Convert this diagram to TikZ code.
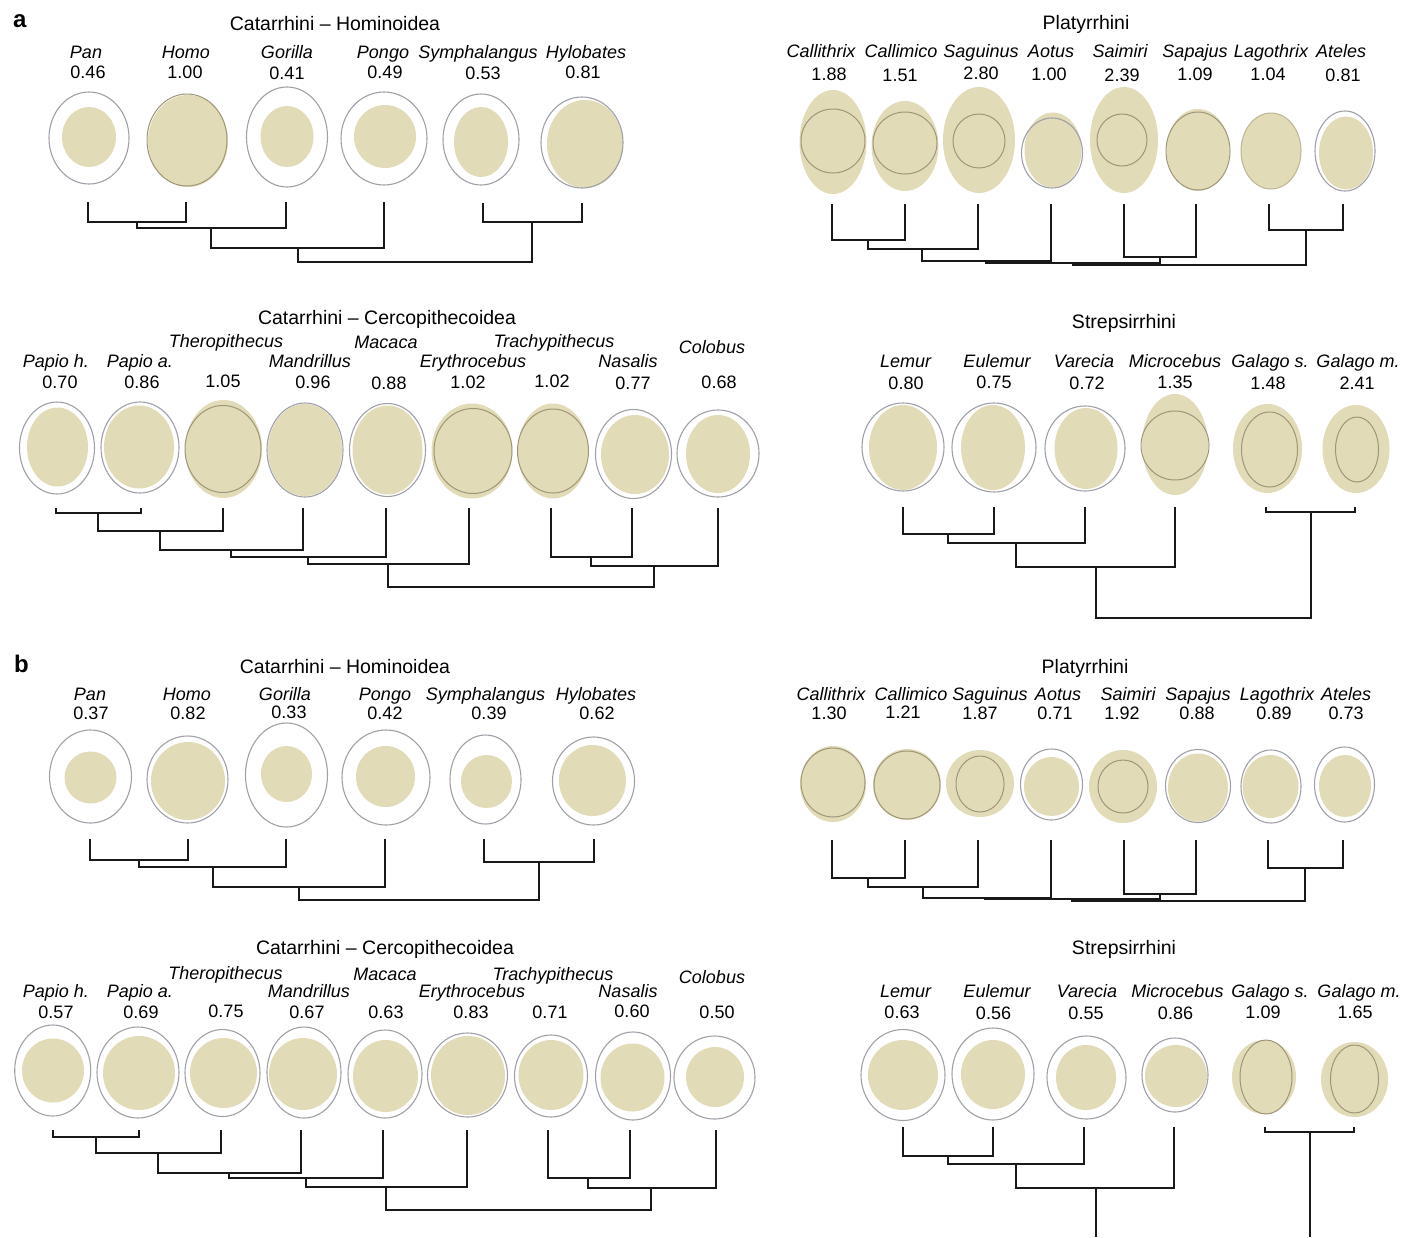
\documentclass[tikz,border=0pt]{standalone}
\usepackage{fontspec}
\setmainfont{Liberation Sans}
\definecolor{eggfill}{RGB}{226,219,183}
\definecolor{eggrim}{RGB}{160,160,168}
\definecolor{eggin}{RGB}{158,150,120}
\newcommand\eggcell[9]{%
  \fill[eggfill] (#1,#2) ellipse [x radius=#3pt, y radius=#4pt];
  \draw[#9] (#5,#6) ellipse [x radius=#7pt, y radius=#8pt];}
\newcommand\dbr[3]{\draw[tree] (#2) |- (#1) -| (#3);}
\tikzset{
  rim/.style={draw=eggrim, line width=1.1pt},
  inr/.style={draw=eggin, line width=1pt},
  inrl/.style={draw=eggin!55!eggfill, line width=1pt},
  tree/.style={line width=1.8pt, draw=black!90, line join=miter},
  nm/.style={font=\fontsize{18}{18}\selectfont\itshape, anchor=base, inner sep=0pt},
  val/.style={font=\fontsize{18}{18}\selectfont, anchor=base, inner sep=0pt},
  ttl/.style={font=\fontsize{19.5}{19.5}\selectfont, anchor=base, inner sep=0pt},
  plab/.style={font=\fontsize{24}{24}\selectfont\bfseries, anchor=base west, inner sep=0pt},
}
\begin{document}
\begin{tikzpicture}[x=1pt,y=-1pt]
\fill[white] (0,0) rectangle (1416,1237);
\path[use as bounding box] (0,0) rectangle (1416,1237);

% ================= PANEL a =================
\node[plab] (labA) at (13,27) {a};

% ---- a: Hominoidea ----
\node[ttl] (aHT) at (335,30) {Catarrhini – Hominoidea};
\node[nm] (aHN1) at (86,58) {Pan};           \node[val] (aHV1) at (88,78) {0.46};
\node[nm] (aHN2) at (186,58) {Homo};         \node[val] (aHV2) at (185,78) {1.00};
\node[nm] (aHN3) at (287,58) {Gorilla};      \node[val] (aHV3) at (287,79) {0.41};
\node[nm] (aHN4) at (383,58) {Pongo};        \node[val] (aHV4) at (385,78) {0.49};
\node[nm] (aHN5) at (478,58) {Symphalangus}; \node[val] (aHV5) at (483,79) {0.53};
\node[nm] (aHN6) at (586,58) {Hylobates};    \node[val] (aHV6) at (583,78) {0.81};
\eggcell{89}{137}{27}{30}{89}{138}{40}{46}{rim}
\eggcell{188}{141}{40}{46}{187}{140}{40}{46}{inr}
\eggcell{287}{136.5}{26.5}{30.5}{287}{137}{40.5}{50}{rim}
\eggcell{385}{136.5}{31}{31.5}{384}{138.5}{43}{46.5}{rim}
\eggcell{481}{142}{27}{35}{481}{139.5}{38}{45.5}{rim}
\eggcell{585}{144}{38}{44}{582}{142.5}{41}{45.5}{rim}
\coordinate (aHL1) at (88,202);  \coordinate (aHL2) at (186,202);
\coordinate (aHL3) at (286,202); \coordinate (aHL4) at (384,202);
\coordinate (aHL5) at (483,203); \coordinate (aHL6) at (582,203);
\coordinate (aHI1) at (137,222); \coordinate (aHI2) at (211,228);
\coordinate (aHI3) at (298,248); \coordinate (aHI4) at (532,222);
\coordinate (aHI5) at (415,262);
\dbr{aHI1}{aHL1}{aHL2}
\dbr{aHI2}{aHI1}{aHL3}
\dbr{aHI3}{aHI2}{aHL4}
\dbr{aHI4}{aHL5}{aHL6}
\dbr{aHI5}{aHI3}{aHI4}

% ---- a: Platyrrhini ----
\node[ttl] (aPT) at (1086,29) {Platyrrhini};
\node[nm] (aPN1) at (821,57) {Callithrix}; \node[val] (aPV1) at (829,80) {1.88};
\node[nm] (aPN2) at (901,57) {Callimico};  \node[val] (aPV2) at (900,81) {1.51};
\node[nm] (aPN3) at (981,57) {Saguinus};   \node[val] (aPV3) at (981,79) {2.80};
\node[nm] (aPN4) at (1051,57) {Aotus};     \node[val] (aPV4) at (1049,80) {1.00};
\node[nm] (aPN5) at (1120,57) {Saimiri};   \node[val] (aPV5) at (1122,81) {2.39};
\node[nm] (aPN6) at (1195,57) {Sapajus};   \node[val] (aPV6) at (1195,80) {1.09};
\node[nm] (aPN7) at (1271,57) {Lagothrix}; \node[val] (aPV7) at (1268,80) {1.04};
\node[nm] (aPN8) at (1341,57) {Ateles};    \node[val] (aPV8) at (1343,81) {0.81};
\eggcell{833}{142}{33.5}{52}{833}{141}{32}{32}{inr}
\eggcell{905}{146}{33.5}{45}{905}{143}{32}{31}{inr}
\eggcell{979}{140}{36}{53}{979}{141}{26}{27}{inr}
\eggcell{1053}{150}{28.5}{37.5}{1052}{153}{30.5}{35}{rim}
\eggcell{1124}{140}{34}{53}{1122}{140}{25}{26}{inr}
\eggcell{1198}{150}{31.5}{41}{1198}{151}{32}{39}{inr}
\eggcell{1271}{151}{30}{38}{1271}{151}{30}{38}{inrl}
\eggcell{1346}{153}{27}{36.5}{1345}{151}{30}{40}{rim}
\coordinate (aPL1) at (832,204);  \coordinate (aPL2) at (905,204);
\coordinate (aPL3) at (978,204);  \coordinate (aPL4) at (1051,204);
\coordinate (aPL5) at (1124,204); \coordinate (aPL6) at (1196,204);
\coordinate (aPL7) at (1269,204); \coordinate (aPL8) at (1343,204);
\coordinate (aPI1) at (868,240);  \coordinate (aPI2) at (922,249);
\coordinate (aPI3) at (986,261);  \coordinate (aPI4) at (1160,257);
\coordinate (aPI5) at (1073,263); \coordinate (aPI6) at (1306,230);
\coordinate (aPI7) at (1190,265);
\dbr{aPI1}{aPL1}{aPL2}
\dbr{aPI2}{aPI1}{aPL3}
\dbr{aPI3}{aPI2}{aPL4}
\dbr{aPI4}{aPL5}{aPL6}
\dbr{aPI5}{aPI3}{aPI4}
\dbr{aPI6}{aPL7}{aPL8}
\dbr{aPI7}{aPI5}{aPI6}

% ---- a: Cercopithecoidea ----
\node[ttl] (aCT) at (387,324) {Catarrhini – Cercopithecoidea};
\node[nm] (aCN1) at (56,367) {Papio h.};        \node[val] (aCV1) at (60,388) {0.70};
\node[nm] (aCN2) at (140,367) {Papio a.};       \node[val] (aCV2) at (142,388) {0.86};
\node[nm] (aCN3) at (226,347) {Theropithecus};  \node[val] (aCV3) at (223,387) {1.05};
\node[nm] (aCN4) at (310,367) {Mandrillus};     \node[val] (aCV4) at (313,388) {0.96};
\node[nm] (aCN5) at (386,348) {Macaca};         \node[val] (aCV5) at (389,389) {0.88};
\node[nm] (aCN6) at (473,367) {Erythrocebus};   \node[val] (aCV6) at (468,388) {1.02};
\node[nm] (aCN7) at (554,347) {Trachypithecus}; \node[val] (aCV7) at (552,387) {1.02};
\node[nm] (aCN8) at (628,367) {Nasalis};        \node[val] (aCV8) at (633,389) {0.77};
\node[nm] (aCN9) at (712,353) {Colobus};        \node[val] (aCV9) at (719,388) {0.68};
\eggcell{57.5}{447}{30.5}{39.5}{57}{448}{37.5}{46}{rim}
\eggcell{139}{447}{35}{41.5}{140}{447.5}{39}{45.5}{rim}
\eggcell{223.5}{449}{38.5}{49}{223}{449}{38}{43.5}{inr}
\eggcell{305}{450}{37}{46}{305}{450}{38}{47}{rim}
\eggcell{387.5}{450}{35}{44.5}{387.5}{450}{38}{46.5}{rim}
\eggcell{472}{451}{40.5}{47.5}{473}{451}{39}{42.5}{inr}
\eggcell{553}{451}{35.5}{47.5}{553}{451}{35.5}{42}{inr}
\eggcell{635}{454.5}{34}{39.5}{633.5}{454}{38}{44.5}{rim}
\eggcell{718}{454}{32}{39}{718}{453.5}{41}{43.5}{rim}
\coordinate (aCL1) at (56,508);  \coordinate (aCL2) at (141,508);
\coordinate (aCL3) at (223,508); \coordinate (aCL4) at (303,508);
\coordinate (aCL5) at (386,508); \coordinate (aCL6) at (469,508);
\coordinate (aCL7) at (551,508); \coordinate (aCL8) at (632,508);
\coordinate (aCL9) at (718,508);
\coordinate (aCI1) at (98,513);  \coordinate (aCI2) at (160,531);
\coordinate (aCI3) at (231,550); \coordinate (aCI4) at (308,557);
\coordinate (aCI5) at (388,564); \coordinate (aCI6) at (591,557);
\coordinate (aCI7) at (654,566); \coordinate (aCI8) at (521,587);
\dbr{aCI1}{aCL1}{aCL2}
\dbr{aCI2}{aCI1}{aCL3}
\dbr{aCI3}{aCI2}{aCL4}
\dbr{aCI4}{aCI3}{aCL5}
\dbr{aCI5}{aCI4}{aCL6}
\dbr{aCI6}{aCL7}{aCL8}
\dbr{aCI7}{aCI6}{aCL9}
\dbr{aCI8}{aCI5}{aCI7}

% ---- a: Strepsirrhini ----
\node[ttl] (aST) at (1124,328) {Strepsirrhini};
\node[nm] (aSN1) at (905.5,367) {Lemur};      \node[val] (aSV1) at (906,389) {0.80};
\node[nm] (aSN2) at (997,367) {Eulemur};      \node[val] (aSV2) at (994,388) {0.75};
\node[nm] (aSN3) at (1084,367) {Varecia};     \node[val] (aSV3) at (1087,389) {0.72};
\node[nm] (aSN4) at (1175,367) {Microcebus};  \node[val] (aSV4) at (1175,388) {1.35};
\node[nm] (aSN5) at (1270,367) {Galago s.};   \node[val] (aSV5) at (1268,389) {1.48};
\node[nm] (aSN6) at (1358,367) {Galago m.};   \node[val] (aSV6) at (1357,389) {2.41};
\eggcell{903}{447.5}{34}{42.5}{903}{447}{41}{44}{rim}
\eggcell{993}{447.5}{32}{42.5}{994}{447.5}{42}{44.5}{rim}
\eggcell{1086}{448.5}{31.5}{40.5}{1085}{448.5}{40}{42.5}{rim}
\eggcell{1175}{444.5}{33}{50.5}{1175}{445.5}{34}{34.5}{inr}
\eggcell{1267.5}{448.5}{34.5}{44.5}{1269.5}{449.5}{28}{37.5}{inr}
\eggcell{1356}{449}{33.5}{44}{1357}{449.5}{21.5}{32.5}{inr}
\coordinate (aSL1) at (903,507);  \coordinate (aSL2) at (994,507);
\coordinate (aSL3) at (1085,507); \coordinate (aSL4) at (1175,507);
\coordinate (aSL5) at (1266,507); \coordinate (aSL6) at (1355,507);
\coordinate (aSI1) at (948,534);  \coordinate (aSI2) at (1016,543);
\coordinate (aSI3) at (1096,567); \coordinate (aSI4) at (1311,512);
\coordinate (aSI5) at (1203,618);
\dbr{aSI1}{aSL1}{aSL2}
\dbr{aSI2}{aSI1}{aSL3}
\dbr{aSI3}{aSI2}{aSL4}
\dbr{aSI4}{aSL5}{aSL6}
\dbr{aSI5}{aSI3}{aSI4}

% ================= PANEL b =================
\node[plab] (labB) at (14,672) {b};

% ---- b: Hominoidea ----
\node[ttl] (bHT) at (345,673) {Catarrhini – Hominoidea};
\node[nm] (bHN1) at (90,700) {Pan};             \node[val] (bHV1) at (91,719) {0.37};
\node[nm] (bHN2) at (187,700) {Homo};           \node[val] (bHV2) at (188,719) {0.82};
\node[nm] (bHN3) at (285,700) {Gorilla};        \node[val] (bHV3) at (289,718) {0.33};
\node[nm] (bHN4) at (385,700) {Pongo};          \node[val] (bHV4) at (385,719) {0.42};
\node[nm] (bHN5) at (485.5,700) {Symphalangus}; \node[val] (bHV5) at (489,719) {0.39};
\node[nm] (bHN6) at (596,700) {Hylobates};      \node[val] (bHV6) at (597,719) {0.62};
\eggcell{90.5}{777.5}{26}{26}{90.5}{776.5}{41}{46.5}{rim}
\eggcell{188}{781}{37}{39}{187.5}{779.5}{40.5}{43.5}{rim}
\eggcell{286.5}{774}{25.5}{28}{286.5}{775}{41}{52}{rim}
\eggcell{385.5}{776.5}{29.5}{30.5}{386}{777.5}{44}{47.5}{rim}
\eggcell{486.5}{781.5}{25.5}{26.5}{485.5}{779.5}{35.5}{44.5}{rim}
\eggcell{592.5}{780.5}{33.5}{35.5}{593.5}{781}{41}{44}{rim}
\coordinate (bHL1) at (90,839);  \coordinate (bHL2) at (188,839);
\coordinate (bHL3) at (286,839); \coordinate (bHL4) at (385,839);
\coordinate (bHL5) at (484,839); \coordinate (bHL6) at (594,839);
\coordinate (bHI1) at (139,860); \coordinate (bHI2) at (213,867);
\coordinate (bHI3) at (299,887); \coordinate (bHI4) at (539,862);
\coordinate (bHI5) at (419,900);
\dbr{bHI1}{bHL1}{bHL2}
\dbr{bHI2}{bHI1}{bHL3}
\dbr{bHI3}{bHI2}{bHL4}
\dbr{bHI4}{bHL5}{bHL6}
\dbr{bHI5}{bHI3}{bHI4}

% ---- b: Platyrrhini ----
\node[ttl] (bPT) at (1085,673) {Platyrrhini};
\node[nm] (bPN1) at (831,700) {Callithrix}; \node[val] (bPV1) at (829,719) {1.30};
\node[nm] (bPN2) at (911,700) {Callimico};  \node[val] (bPV2) at (903,718) {1.21};
\node[nm] (bPN3) at (990,700) {Saguinus};   \node[val] (bPV3) at (980,719) {1.87};
\node[nm] (bPN4) at (1058,700) {Aotus};     \node[val] (bPV4) at (1055,719) {0.71};
\node[nm] (bPN5) at (1128,700) {Saimiri};   \node[val] (bPV5) at (1122,719) {1.92};
\node[nm] (bPN6) at (1198,700) {Sapajus};   \node[val] (bPV6) at (1197,719) {0.88};
\node[nm] (bPN7) at (1277,700) {Lagothrix}; \node[val] (bPV7) at (1274,719) {0.89};
\node[nm] (bPN8) at (1346,700) {Ateles};    \node[val] (bPV8) at (1346,719) {0.73};
\eggcell{833}{784}{33}{38}{833}{782.5}{32}{34.5}{inr}
\eggcell{907}{784.5}{34}{35.5}{907}{785}{33}{34}{inr}
\eggcell{980}{783.5}{34}{33.5}{980}{784}{24}{28}{inr}
\eggcell{1051.5}{786.5}{27.5}{29.5}{1051.5}{784.5}{31}{35.5}{rim}
\eggcell{1123}{786.5}{34}{36.5}{1123}{786.5}{25}{26.5}{inr}
\eggcell{1198}{787.5}{30}{34}{1198}{786}{32.5}{36.5}{rim}
\eggcell{1270.5}{786.5}{28}{31.5}{1271}{786.5}{30}{36.5}{rim}
\eggcell{1345}{786}{26}{31}{1344.5}{784.5}{30}{37.5}{rim}
\coordinate (bPL1) at (832,840);    \coordinate (bPL2) at (905,840);
\coordinate (bPL3) at (978,840);    \coordinate (bPL4) at (1051,840);
\coordinate (bPL5) at (1124,840);   \coordinate (bPL6) at (1196,840);
\coordinate (bPL7) at (1268,840);   \coordinate (bPL8) at (1343,840);
\coordinate (bPI1) at (868,878);  \coordinate (bPI2) at (923,887);
\coordinate (bPI3) at (985,898);  \coordinate (bPI4) at (1160,894);
\coordinate (bPI5) at (1072,899); \coordinate (bPI6) at (1305,868);
\coordinate (bPI7) at (1188,901);
\dbr{bPI1}{bPL1}{bPL2}
\dbr{bPI2}{bPI1}{bPL3}
\dbr{bPI3}{bPI2}{bPL4}
\dbr{bPI4}{bPL5}{bPL6}
\dbr{bPI5}{bPI3}{bPI4}
\dbr{bPI6}{bPL7}{bPL8}
\dbr{bPI7}{bPI5}{bPI6}

% ---- b: Cercopithecoidea ----
\node[ttl] (bCT) at (385,954) {Catarrhini – Cercopithecoidea};
\node[nm] (bCN1) at (56,997) {Papio h.};          \node[val] (bCV1) at (56,1018) {0.57};
\node[nm] (bCN2) at (140,997) {Papio a.};         \node[val] (bCV2) at (141,1018) {0.69};
\node[nm] (bCN3) at (225.5,979) {Theropithecus};  \node[val] (bCV3) at (226,1017) {0.75};
\node[nm] (bCN4) at (309,997) {Mandrillus};       \node[val] (bCV4) at (307,1018) {0.67};
\node[nm] (bCN5) at (385,980) {Macaca};           \node[val] (bCV5) at (386,1018) {0.63};
\node[nm] (bCN6) at (472,997) {Erythrocebus};     \node[val] (bCV6) at (471,1018) {0.83};
\node[nm] (bCN7) at (553,980) {Trachypithecus};   \node[val] (bCV7) at (550,1018) {0.71};
\node[nm] (bCN8) at (628,997) {Nasalis};          \node[val] (bCV8) at (632,1017) {0.60};
\node[nm] (bCN9) at (712,983) {Colobus};          \node[val] (bCV9) at (717,1018) {0.50};
\eggcell{53}{1070.5}{31}{32}{52.7}{1070.5}{38}{45.5}{rim}
\eggcell{139}{1073}{36}{37}{138}{1072.5}{41}{45.5}{rim}
\eggcell{223.5}{1073}{33.5}{35}{222.5}{1073}{37.5}{43.5}{rim}
\eggcell{303}{1074}{34}{36}{304}{1072.5}{37}{45.5}{rim}
\eggcell{385.5}{1076}{32.5}{36}{385}{1074}{37}{44}{rim}
\eggcell{468}{1075.5}{37}{39.5}{467.5}{1075}{40}{42}{rim}
\eggcell{551}{1075}{32.5}{35}{551}{1076}{36.5}{41}{rim}
\eggcell{632.5}{1077.5}{32}{34}{633}{1076}{37.5}{44}{rim}
\eggcell{715}{1077}{29}{30}{714.5}{1077.5}{40.5}{41.5}{rim}
\coordinate (bCL1) at (53,1130);    \coordinate (bCL2) at (139,1130);
\coordinate (bCL3) at (221,1130);   \coordinate (bCL4) at (301,1130);
\coordinate (bCL5) at (383,1130);   \coordinate (bCL6) at (467,1130);
\coordinate (bCL7) at (548,1130);   \coordinate (bCL8) at (630,1130);
\coordinate (bCL9) at (716,1130);
\coordinate (bCI1) at (96,1137);  \coordinate (bCI2) at (158,1153);
\coordinate (bCI3) at (229,1173); \coordinate (bCI4) at (306,1178);
\coordinate (bCI5) at (386,1187); \coordinate (bCI6) at (588,1178);
\coordinate (bCI7) at (651,1188); \coordinate (bCI8) at (518,1210);
\dbr{bCI1}{bCL1}{bCL2}
\dbr{bCI2}{bCI1}{bCL3}
\dbr{bCI3}{bCI2}{bCL4}
\dbr{bCI4}{bCI3}{bCL5}
\dbr{bCI5}{bCI4}{bCL6}
\dbr{bCI6}{bCL7}{bCL8}
\dbr{bCI7}{bCI6}{bCL9}
\dbr{bCI8}{bCI5}{bCI7}

% ---- b: Strepsirrhini ----
\node[ttl] (bST) at (1124,954) {Strepsirrhini};
\node[nm] (bSN1) at (905.5,997) {Lemur};      \node[val] (bSV1) at (902,1018) {0.63};
\node[nm] (bSN2) at (997,997) {Eulemur};      \node[val] (bSV2) at (993.5,1019) {0.56};
\node[nm] (bSN3) at (1087,997) {Varecia};     \node[val] (bSV3) at (1086,1019) {0.55};
\node[nm] (bSN4) at (1177.5,997) {Microcebus};\node[val] (bSV4) at (1175.5,1019) {0.86};
\node[nm] (bSN5) at (1270,997) {Galago s.};   \node[val] (bSV5) at (1263,1018) {1.09};
\node[nm] (bSN6) at (1359,997) {Galago m.};   \node[val] (bSV6) at (1355,1018) {1.65};
\eggcell{903}{1075}{35}{35}{903}{1075}{42}{45.5}{rim}
\eggcell{993}{1074.5}{32}{34.5}{993}{1074}{41}{46}{rim}
\eggcell{1086}{1077.5}{30}{32.5}{1086.5}{1077.5}{39.5}{41.5}{rim}
\eggcell{1176}{1076}{31}{31}{1175}{1075}{33}{37}{rim}
\eggcell{1264}{1077}{32}{37}{1266}{1077}{26}{37}{inr}
\eggcell{1354.5}{1079.5}{33.5}{37.5}{1354.5}{1079}{24}{34}{inr}
\coordinate (bSL1) at (903,1127);    \coordinate (bSL2) at (993,1127);
\coordinate (bSL3) at (1084,1127);   \coordinate (bSL4) at (1174,1127);
\coordinate (bSL5) at (1265,1127);   \coordinate (bSL6) at (1354,1127);
\coordinate (bSI1) at (948,1156);  \coordinate (bSI2) at (1016,1164);
\coordinate (bSI3) at (1096,1188); \coordinate (bSI4) at (1310,1132);
\coordinate (bSE1) at (1096,1237); \coordinate (bSE2) at (1310,1237);
\dbr{bSI1}{bSL1}{bSL2}
\dbr{bSI2}{bSI1}{bSL3}
\dbr{bSI3}{bSI2}{bSL4}
\dbr{bSI4}{bSL5}{bSL6}
\draw[tree] (bSI3) -- (bSE1);
\draw[tree] (bSI4) -- (bSE2);
\end{tikzpicture}
\end{document}
